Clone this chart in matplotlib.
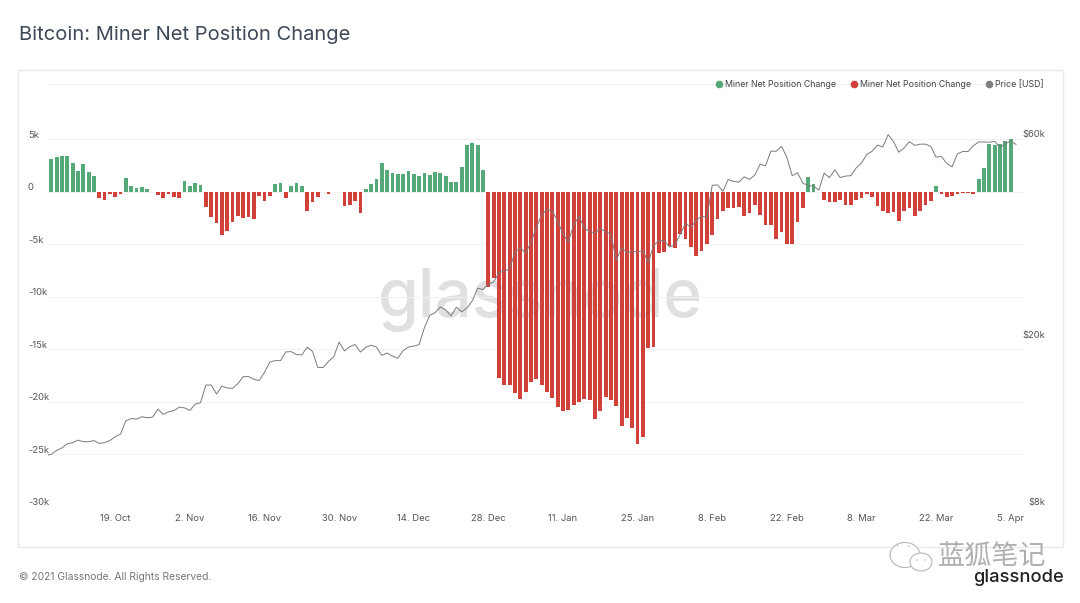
import numpy as np
import matplotlib
matplotlib.use("Agg")
import matplotlib.pyplot as plt
import matplotlib.dates as mdates
from matplotlib.lines import Line2D
from matplotlib.patches import Rectangle, Ellipse, Circle
from matplotlib.transforms import ScaledTranslation

# Daily miner net position change, thousands of BTC, from 2020-10-07
change_oct = [3.1,3.3,3.4,3.4,2.75,2.0,2.6,1.9,1.5,-0.6,-0.76,-0.25,-0.5,-0.2,1.3,0.57,0.35,0.47,0.22,0.0,-0.3,-0.63,-0.25,-0.47,-0.63]
change_nov = [1.05,0.57,0.82,0.6,-1.45,-2.4,-2.95,-4.1,-3.7,-2.9,-2.3,-2.5,-2.45,-2.6,-0.4,-0.9,-0.45,0.73,0.82,-0.57,0.57,0.82,0.55,-1.87,-1.0,-0.55,0.0,-0.25,-0.06,-0.04]
change_dec = [-1.4,-1.27,-0.9,-2.0,0.3,0.73,1.23,2.75,2.1,1.77,1.65,1.68,1.96,1.7,1.5,1.74,1.58,1.87,1.77,1.5,0.95,0.95,2.34,4.46,4.6,4.46,2.1,-9.1,-8.2,-17.75,-18.4]
change_jan = [-18.4,-19.2,-19.7,-19.1,-18.1,-17.85,-18.4,-19.1,-19.6,-20.5,-20.9,-20.8,-20.3,-20.0,-19.7,-19.85,-21.65,-20.9,-19.5,-19.85,-20.4,-22.3,-21.5,-22.45,-24.0,-23.3,-14.85,-14.8,-5.8,-5.76,-5.2]
change_feb = [-5.4,-4.0,-4.5,-5.25,-6.1,-5.6,-5.0,-4.1,-2.6,-1.87,-1.52,-1.52,-1.42,-2.28,-2.03,-1.27,-2.18,-3.2,-3.16,-4.52,-3.83,-4.94,-4.94,-2.88,-1.52,1.42,0.7,-0.05]
change_mar = [-0.76,-1.0,-0.95,-0.8,-1.27,-1.27,-0.82,-0.63,-0.25,-0.47,-1.36,-1.8,-2.06,-1.96,-2.75,-1.87,-1.55,-2.28,-1.83,-1.27,-0.89,0.57,-0.25,-0.54,-0.41,-0.19,-0.1,-0.16,-0.19,1.23,2.24]
change_apr = [4.53,4.46,4.56,4.84,5.0]
change = np.array(change_oct + change_nov + change_dec + change_jan + change_feb + change_mar + change_apr)
change_dates = np.datetime64("2020-10-07") + np.arange(len(change))

# Daily BTC price, USD thousands, from 2020-10-06
price_oct = [10.6,10.67,10.9,11.05,11.3,11.37,11.53,11.43,11.43,11.5,11.32,11.37,11.5,11.75,11.92,12.82,12.97,12.93,13.1,13.03,13.07,13.65,13.27,13.45,13.55,13.8]
price_nov = [13.75,13.56,14.03,14.15,15.58,15.58,14.83,15.48,15.33,15.3,15.7,16.3,16.32,16.07,15.96,16.7,17.66,17.8,17.8,18.67,18.7,18.4,18.37,19.15,18.73,17.15,17.14,17.72,18.18,19.7]
price_dec = [18.77,19.22,19.44,18.65,19.15,19.36,19.17,18.32,18.55,18.25,18.03,18.8,19.17,19.27,19.43,21.3,22.8,23.13,23.87,23.48,22.73,23.82,23.25,23.73,24.7,26.45,26.25,27.03,27.36,28.84,29.0]
price_jan = [29.4,32.2,33.0,31.97,33.99,36.82,39.5,40.67,40.24,38.24,35.54,34.0,37.39,39.16,36.77,36.0,35.8,36.6,36.0,35.5,30.8,33.0,32.07,32.3,32.25,32.5,30.4,33.4,34.3,34.3,33.1]
price_feb = [33.5,35.5,37.66,36.9,38.3,39.2,38.9,46.4,46.5,44.9,47.9,47.4,47.2,48.6,47.9,49.1,52.1,51.6,55.9,55.9,57.4,54.1,48.9,49.7,47.0,46.3,46.2,45.2]
price_mar = [49.6,48.4,50.5,48.4,48.8,48.9,51.0,52.4,54.9,55.9,57.8,57.2,61.2,59.0,55.6,56.9,58.9,57.7,58.1,58.1,57.4,54.1,54.3,52.3,51.3,55.1,55.8,55.8,57.6,58.8,58.8]
price_apr = [58.7,59.0,57.1,58.2,59.1,58.0]
price = np.array(price_oct + price_nov + price_dec + price_jan + price_feb + price_mar + price_apr) * 1000
price_dates = np.datetime64("2020-10-06") + np.arange(len(price))

y_ticks = [-30, -25, -20, -15, -10, -5, 0, 5, 10.2]
y_labels = ["-30k", "-25k", "-20k", "-15k", "-10k", "-5k", "0", "5k", ""]
price_ticks = [8000, 20000, 60000]
price_labels = ["$8k", "$20k", "$60k"]
date_ticks = ["2020-10-19","2020-11-02","2020-11-16","2020-11-30","2020-12-14","2020-12-28",
              "2021-01-11","2021-01-25","2021-02-08","2021-02-22","2021-03-08","2021-03-22","2021-04-05"]
date_labels = ["19. Oct","2. Nov","16. Nov","30. Nov","14. Dec","28. Dec","11. Jan","25. Jan",
               "8. Feb","22. Feb","8. Mar","22. Mar","5. Apr"]
legend_labels = ["Miner Net Position Change", "Miner Net Position Change", "Price [USD]"]

GREEN, RED, LINE = "#55a878", "#d2403a", "#7a7a7a"
W, H = 1080, 603
plt.rcParams["font.family"] = ["Inter", "DejaVu Sans"]
fig = plt.figure(figsize=(W / 100, H / 100), dpi=100, facecolor="white")

def fx(p): return p / W
def fy(p): return 1 - p / H

fig.add_artist(Rectangle((fx(18), fy(547)), 1045 / W, 477 / H, transform=fig.transFigure,
                         fc="white", ec="#e9e9e9", lw=1, zorder=-5))

ax = fig.add_axes([fx(48), fy(507), 975 / W, 423 / H])
ax.patch.set_alpha(0)
ppd = 5.33
x0 = mdates.date2num(change_dates[0]) - 3.3 / ppd
ax.set_xlim(x0, x0 + 975 / ppd)
ax.set_ylim(-30, -30 + 423 / 10.51)

pos = change >= 0
ax.bar(change_dates[pos], change[pos], width=0.71, color=GREEN, zorder=2)
ax.bar(change_dates[~pos], change[~pos], width=0.71, color=RED, zorder=2)

down = ScaledTranslation(0, -0.5 / 100, fig.dpi_scale_trans)
ax.set_yticks(y_ticks, y_labels)
ax.grid(axis="y", color="#f1f1f1", lw=0.8, zorder=0.3)
ax.set_axisbelow(True)
ax.tick_params(axis="y", length=0, pad=14.5, labelsize=6.8, labelcolor="#555555")
for t in ax.get_yticklabels():
    t.set_ha("left")
    t.set_va("bottom")
    t.set_transform(t.get_transform() + down)
ax.set_xticks(np.array(date_ticks, dtype="datetime64[D]"), date_labels)
ax.tick_params(axis="x", length=0, pad=5, labelsize=6.8, labelcolor="#555555")
for s in ax.spines.values():
    s.set_visible(False)

ax2 = ax.twinx()
ax2.patch.set_alpha(0)
ax2.set_yscale("log")
ax2.set_ylim(8000, 80700)
ax2.plot(price_dates, price, color=LINE, lw=0.7, zorder=3)
ax2.set_yticks(price_ticks, price_labels)
ax2.minorticks_off()
ax2.tick_params(axis="y", length=0, pad=16, labelsize=6.8, labelcolor="#555555")
for t in ax2.get_yticklabels():
    t.set_ha("right")
    t.set_va("bottom")
    t.set_transform(t.get_transform() + down)
for s in ax2.spines.values():
    s.set_visible(False)

handles = [Line2D([], [], ls="", marker="o", ms=4.5, color=c) for c in (GREEN, RED, "#808080")]
leg = fig.legend(handles, legend_labels, ncol=3, loc="upper right", bbox_to_anchor=(fx(1052), fy(72)),
                 frameon=False, fontsize=6.35, labelcolor="#444444", handletextpad=0.0,
                 handlelength=1.4, columnspacing=1.33)

# watermark under the bars
ax.text(fx(540), fy(300), "glassnode", transform=fig.transFigure, ha="center", va="center",
        fontsize=47.5, color="#e0e0e0", fontweight="medium", zorder=0.5, clip_on=False)

fig.text(fx(19), fy(35), "Bitcoin: Miner Net Position Change", fontsize=14.5, color="#3e4856", va="center")
fig.text(fx(19), fy(577), "© 2021 Glassnode. All Rights Reserved.", fontsize=7.45, color="#777777", va="center")

# WeChat style stamp
for (cx, cy, w, h) in [(905, 555, 30, 25), (921, 562, 22, 18)]:
    fig.add_artist(Ellipse((fx(cx), fy(cy)), w / W, h / H, transform=fig.transFigure,
                           fc="white", ec="#b5b5b5", lw=0.8, zorder=5))
for (cx, cy) in [(898, 546), (909, 546), (917, 560), (925, 560)]:
    fig.add_artist(Circle((fx(cx), fy(cy)), 1 / W, transform=fig.transFigure, fc="#b5b5b5", ec="none", zorder=6))
fig.text(fx(938), fy(556), "蓝狐笔记", fontsize=19.5, color="#b0b0b0", va="center",
         family=["Noto Sans CJK SC", "DejaVu Sans"])
fig.text(fx(973), fy(578), "glassnode", fontsize=13.2, color="#222222", va="center", fontweight="medium")

fig.savefig("out.png", dpi=100)
